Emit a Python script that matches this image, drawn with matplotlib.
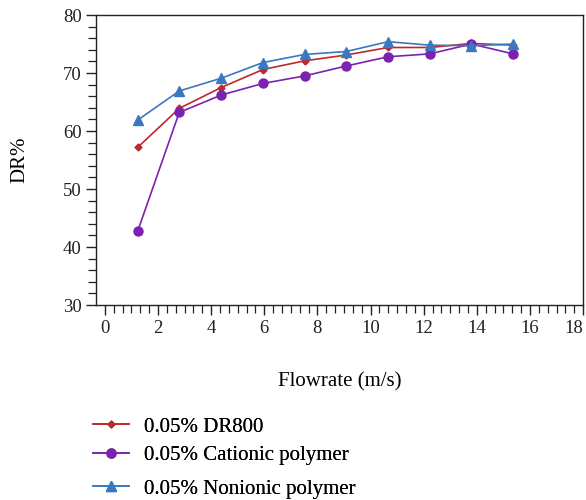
import matplotlib
matplotlib.use("Agg")
import matplotlib.pyplot as plt
from matplotlib.ticker import MultipleLocator, FixedLocator

plt.rcParams['font.family'] = ['Liberation Serif', 'DejaVu Serif']

flowrate = [1.24, 2.80, 4.38, 5.95, 7.52, 9.08, 10.66, 12.23, 13.80, 15.36]
dr800 = [57.2, 63.9, 67.5, 70.6, 72.1, 73.1, 74.4, 74.4, 75.1, 74.8]
cationic = [42.8, 63.2, 66.2, 68.2, 69.5, 71.2, 72.8, 73.3, 75.0, 73.3]
nonionic = [61.9, 66.9, 69.1, 71.8, 73.2, 73.7, 75.4, 74.8, 74.7, 75.0]
labels = ["0.05% DR800", "0.05% Cationic polymer", "0.05% Nonionic polymer"]
xticks = [0, 2, 4, 6, 8, 10, 12, 14, 16, 18]

fig = plt.figure(figsize=(5.86, 5.0), dpi=100)
ax = fig.add_axes([0.164, 0.39, 0.831, 0.58])

l1, = ax.plot(flowrate, dr800, color='#C0282A', marker='D', markersize=3.5, lw=1.2, label=labels[0])
l2, = ax.plot(flowrate, cationic, color='#7B22B0', marker='o', markersize=6.5, lw=1.2, label=labels[1])
l3, = ax.plot(flowrate, nonionic, color='#3A78C0', marker='^', markersize=7, lw=1.2, label=labels[2])

ax.set_xlim(-0.33, 18)
ax.set_ylim(30, 80)
ax.set_xticks(xticks, [str(v) for v in xticks])
ax.xaxis.set_minor_locator(MultipleLocator(1/3))
ax.yaxis.set_major_locator(MultipleLocator(10))
ax.yaxis.set_minor_locator(MultipleLocator(2))
ax.tick_params(which='major', direction='out', length=7.5, width=1, labelsize=13.5, colors='#222222')
ax.tick_params(which='minor', direction='out', length=5.5, width=0.9, colors='#222222')
ax.tick_params(axis='x', pad=3)
ax.tick_params(axis='y', pad=3)
for s in ax.spines.values():
    s.set_linewidth(1.0)
    s.set_color('#222222')

last = ax.xaxis.get_major_ticks()[-1]
last.label1.set_horizontalalignment('right')

ax.set_xlabel("Flowrate (m/s)", fontsize=15, labelpad=26)
ax.set_ylabel("DR%", fontsize=15, labelpad=24)

ys = [427, 455, 489]
for h, lab, yp in zip([l1, l2, l3], labels, ys):
    lg = fig.legend(handles=[h], labels=[lab], loc='center left',
                    bbox_to_anchor=(93 / 586, 1 - yp / 500), frameon=False, fontsize=15,
                    handlelength=1.75, handletextpad=0.7, borderpad=0, borderaxespad=0)
    fig.add_artist(lg)

fig.savefig("out.png", dpi=100)
